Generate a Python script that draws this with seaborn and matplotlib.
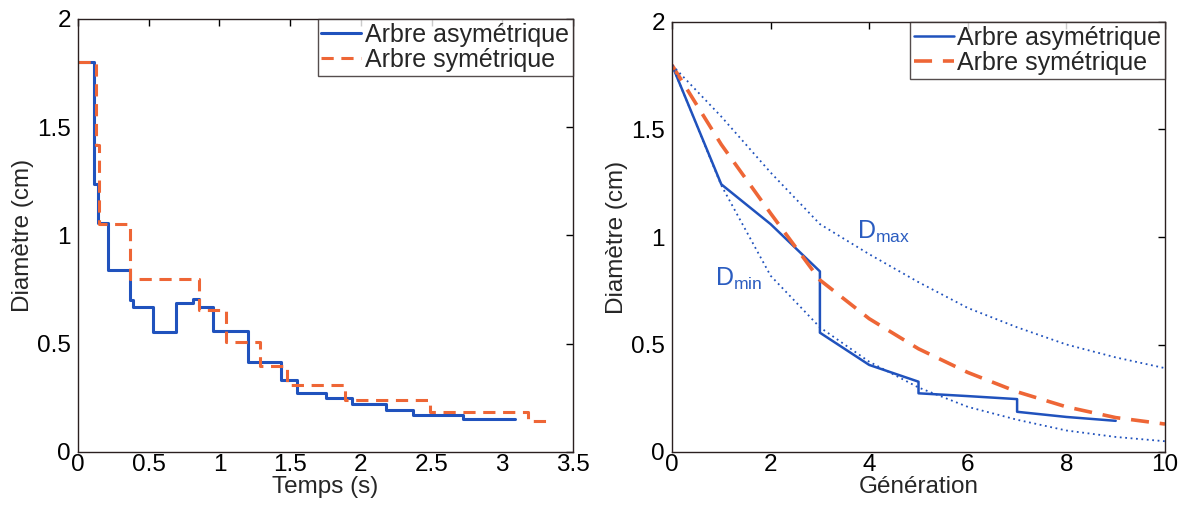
import matplotlib
matplotlib.use("Agg")
import matplotlib.pyplot as plt
import seaborn as sns
import pandas as pd

# ---- Left panel data (step curves vs time) ----
t_asym = [0, 0.113, 0.144, 0.215, 0.368, 0.391, 0.533, 0.693, 0.816, 0.855, 0.955,
          1.200, 1.437, 1.546, 1.757, 1.94, 2.178, 2.37, 2.72, 3.09]
d_asym_t = [1.8, 1.24, 1.056, 0.841, 0.702, 0.671, 0.556, 0.69, 0.705, 0.668, 0.558,
            0.414, 0.333, 0.274, 0.251, 0.221, 0.196, 0.171, 0.151, 0.151]
t_sym = [0, 0.127, 0.150, 0.368, 0.858, 1.05, 1.285, 1.476, 1.89, 2.49, 3.185, 3.36]
d_sym_t = [1.8, 1.42, 1.053, 0.80, 0.656, 0.51, 0.397, 0.309, 0.238, 0.186, 0.145, 0.145]

# ---- Right panel data (vs generation) ----
gen_asym = [0, 1, 2, 3, 3, 4, 5, 5, 6, 7, 7, 8, 9]
d_asym_g = [1.8, 1.245, 1.06, 0.84, 0.555, 0.405, 0.327, 0.273, 0.26, 0.246, 0.187, 0.163, 0.145]
gen = [0, 1, 2, 3, 4, 5, 6, 7, 8, 9, 10]
d_sym_g = [1.8, 1.43, 1.11, 0.80, 0.62, 0.48, 0.37, 0.28, 0.21, 0.16, 0.13]
d_max = [1.8, 1.56, 1.30, 1.06, 0.92, 0.79, 0.67, 0.58, 0.50, 0.44, 0.39]
d_min = [1.8, 1.24, 0.82, 0.58, 0.42, 0.30, 0.21, 0.15, 0.10, 0.07, 0.05]

x_ticks_left = [0, 0.5, 1, 1.5, 2, 2.5, 3, 3.5]
x_ticks_right = [0, 2, 4, 6, 8, 10]
y_ticks = [0, 0.5, 1, 1.5, 2]

label_asym = "Arbre asymétrique"
label_sym = "Arbre symétrique"

BLUE = "#2052bd"
ORANGE = "#ee6636"
FRAME = "#2a2020"
FS = 17.5

sns.set_theme(style="white")
plt.rcParams["font.family"] = ["Liberation Sans", "DejaVu Sans"]
plt.rcParams["mathtext.fontset"] = "custom"
plt.rcParams["mathtext.rm"] = "Liberation Sans"

fig = plt.figure(figsize=(11.87, 5.08), dpi=100)
ax1 = fig.add_axes([78 / 1187, 56 / 508, 495 / 1187, 433 / 508])
ax2 = fig.add_axes([672 / 1187, 56 / 508, 493 / 1187, 430 / 508])

df_la = pd.DataFrame({"t": t_asym, "d": d_asym_t})
df_ls = pd.DataFrame({"t": t_sym, "d": d_sym_t})
sns.lineplot(data=df_la, x="t", y="d", ax=ax1, color=BLUE, lw=2.2,
             drawstyle="steps-post", estimator=None, sort=False, label=label_asym)
sns.lineplot(data=df_ls, x="t", y="d", ax=ax1, color=ORANGE, lw=2.2,
             drawstyle="steps-post", estimator=None, sort=False, label=label_sym,
             linestyle=(0, (4, 2.5)))

df_ra = pd.DataFrame({"g": gen_asym, "d": d_asym_g})
df_g = pd.DataFrame({"g": gen, "sym": d_sym_g, "dmax": d_max, "dmin": d_min})
sns.lineplot(data=df_ra, x="g", y="d", ax=ax2, color=BLUE, lw=1.8,
             estimator=None, sort=False, label=label_asym)
sns.lineplot(data=df_g, x="g", y="sym", ax=ax2, color=ORANGE, lw=2.6,
             estimator=None, label=label_sym, linestyle=(0, (5, 3)))
sns.lineplot(data=df_g, x="g", y="dmax", ax=ax2, color=BLUE, lw=1.3,
             estimator=None, linestyle=(0, (1, 2)), legend=False)
sns.lineplot(data=df_g, x="g", y="dmin", ax=ax2, color=BLUE, lw=1.3,
             estimator=None, linestyle=(0, (1, 2)), legend=False)

ax2.text(3.75, 0.99, r"D$_{\mathregular{max}}$", color="#2a5cc0", fontsize=18)
ax2.text(0.87, 0.775, r"D$_{\mathregular{min}}$", color="#2a5cc0", fontsize=18)

for ax, xt, xl, xlab in [(ax1, x_ticks_left, (0, 3.5), "Temps (s)"),
                         (ax2, x_ticks_right, (0, 10), "Génération")]:
    ax.set_xlim(*xl)
    ax.set_ylim(0, 2)
    ax.set_xticks(xt)
    ax.set_xticklabels([f"{v:g}" for v in xt])
    ax.set_yticks(y_ticks)
    ax.set_yticklabels([f"{v:g}" for v in y_ticks])
    ax.set_xlabel(xlab, fontsize=FS, labelpad=0)
    ax.set_ylabel("Diamètre (cm)", fontsize=FS, labelpad=2)
    ax.tick_params(direction="in", length=5, width=1, top=True, right=True,
                   labelsize=FS, colors="black")
    ax.tick_params(axis="x", pad=1.5)
    ax.tick_params(axis="y", pad=5)
    for s in ax.spines.values():
        s.set_color(FRAME)
        s.set_linewidth(1.0)
    leg = ax.legend(loc="upper right", fontsize=FS + 0.5, frameon=True, fancybox=False,
                    borderaxespad=0, handlelength=1.6, handletextpad=0.15,
                    labelspacing=0.05, borderpad=0.15)
    leg.get_frame().set_edgecolor(FRAME)
    leg.get_frame().set_linewidth(1.0)

fig.savefig("out.png", dpi=100, facecolor="white")
